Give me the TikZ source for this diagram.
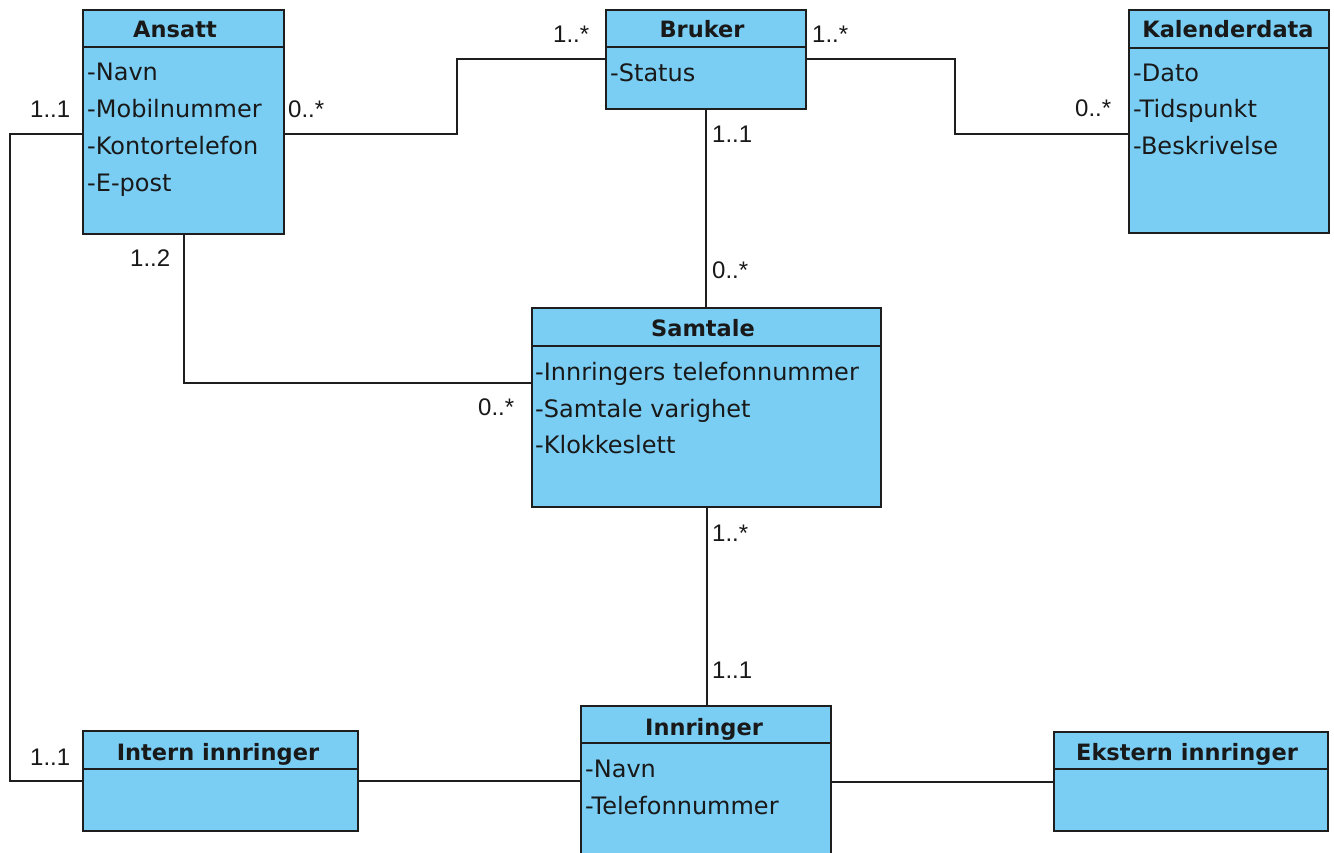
\documentclass[tikz,border=0pt]{standalone}
\usepackage{fontspec}
\setmainfont{DejaVu Sans}
\newfontfamily\multfont{Liberation Sans}
\definecolor{boxfill}{RGB}{122,206,244}
\definecolor{boxline}{RGB}{30,30,30}
\definecolor{txt}{RGB}{25,25,25}
\newcommand{\umlbox}[6]{%
  \node[classbox, minimum width={#4-#2}, minimum height={#5-#3}] (#1) at (#2,#3) {};
  \draw[boxedge] (#2,#6) -- (#4,#6);
}
\begin{document}
\begin{tikzpicture}[x=1pt,y=-1pt,
  classbox/.style={draw=boxline, fill=boxfill, line width=2pt, anchor=north west, inner sep=0pt, outer sep=0pt},
  boxedge/.style={draw=boxline, line width=2pt},
  conn/.style={draw=boxline, line width=2pt},
  ctitle/.style={anchor=base, inner sep=0pt, text=txt, font=\fontsize{22.5}{27}\selectfont\bfseries},
  attr/.style={anchor=base west, inner sep=0pt, text=txt, font=\fontsize{24}{29}\selectfont},
  mult/.style={anchor=base west, inner sep=0pt, text=txt, font=\multfont\fontsize{24}{29}\selectfont}]
\clip (0,0) rectangle (1334,853);
\fill[white] (0,0) rectangle (1334,853);

% class boxes
\umlbox{ansatt}{83}{10}{284}{234}{47}
\umlbox{bruker}{606}{10}{806}{109}{47}
\umlbox{kalender}{1129}{10}{1329}{233}{48}
\umlbox{samtale}{532}{308}{881}{507}{346}
\umlbox{intern}{83}{731}{358}{831}{769}
\umlbox{innringer}{581}{706}{831}{900}{743}
\umlbox{ekstern}{1054}{732}{1328}{831}{769}

% titles
\node[ctitle] (tansatt) at (175,38) {Ansatt};
\node[ctitle] (tbruker) at (702,38) {Bruker};
\node[ctitle] (tkalender) at (1228,37.5) {Kalenderdata};
\node[ctitle] (tsamtale) at (703,336.5) {Samtale};
\node[ctitle] (tintern) at (218,760) {Intern innringer};
\node[ctitle] (tinnringer) at (704,735) {Innringer};
\node[ctitle] (tekstern) at (1187,760) {Ekstern innringer};

% attributes
\node[attr] (a1) at (87,81) {-Navn};
\node[attr] (a2) at (87,118) {-Mobilnummer};
\node[attr] (a3) at (87,155) {-Kontortelefon};
\node[attr] (a4) at (87,192) {-E-post};
\node[attr] (b1) at (610,81.5) {-Status};
\node[attr] (k1) at (1133,81.5) {-Dato};
\node[attr] (k2) at (1133,118) {-Tidspunkt};
\node[attr] (k3) at (1133,155) {-Beskrivelse};
\node[attr] (s1) at (535,380) {-Innringers telefonnummer};
\node[attr] (s2) at (535,417) {-Samtale varighet};
\node[attr] (s3) at (535,453) {-Klokkeslett};
\node[attr] (i1) at (585,777) {-Navn};
\node[attr] (i2) at (585,814) {-Telefonnummer};

% connectors
\draw[conn] ([yshift=-12pt]ansatt.east) -- ++(173,0) |- (bruker.west);
\draw[conn] (bruker.east) -- ++(149,0) |- ([yshift=-12.5pt]kalender.west);
\draw[conn] (bruker.south) -- (bruker.south |- samtale.north);
\draw[conn] (ansatt.south) |- ([yshift=25pt]samtale.west);
\draw[conn] ([yshift=-12pt]ansatt.west) -- ++(-73,0) |- (intern.west);
\draw[conn] (samtale.south) -- (samtale.south |- innringer.north);
\draw[conn] (intern.east) -- (intern.east -| innringer.west);
\draw[conn] (ekstern.west -| innringer.east) -- (ekstern.west);

% multiplicities
\node[mult] (m1) at (30,118) {1..1};
\node[mult] (m2) at (288,118) {0..*};
\node[mult] (m3) at (130,267) {1..2};
\node[mult] (m4) at (553,43) {1..*};
\node[mult] (m5) at (812,43) {1..*};
\node[mult] (m6) at (712,143) {1..1};
\node[mult] (m7) at (1075,117) {0..*};
\node[mult] (m8) at (712,279) {0..*};
\node[mult] (m9) at (478,415) {0..*};
\node[mult] (m10) at (712,541) {1..*};
\node[mult] (m11) at (712,678) {1..1};
\node[mult] (m12) at (30,765) {1..1};
\end{tikzpicture}
\end{document}
